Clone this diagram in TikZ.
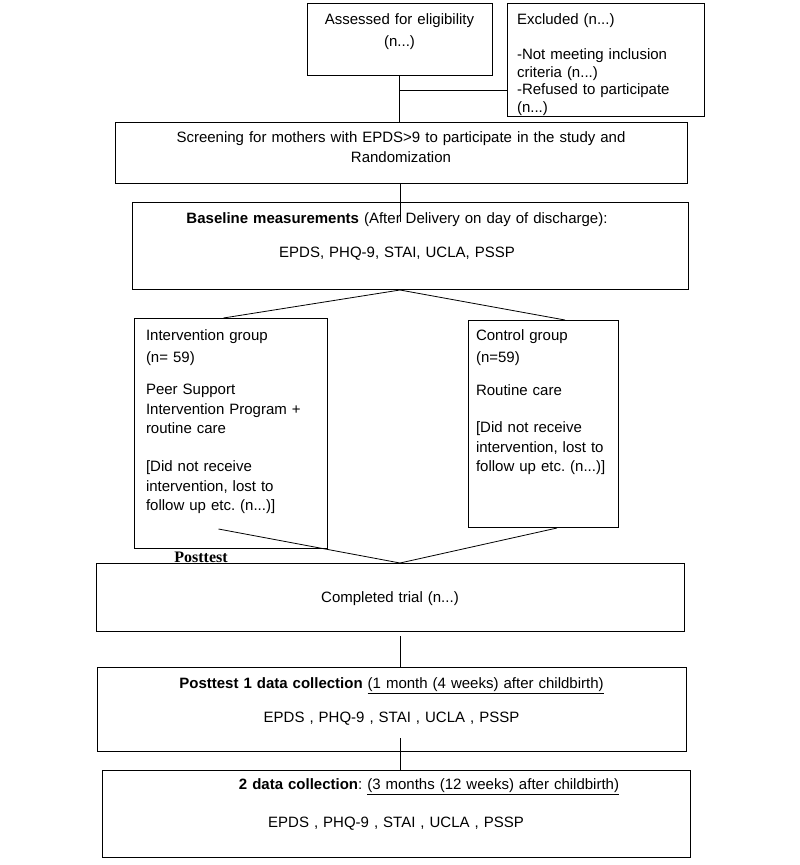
\documentclass[tikz,border=0pt]{standalone}
\usepackage{fontspec}
\setmainfont{Liberation Sans}
\newfontfamily\posttestfont{Liberation Serif}
\frenchspacing
\tikzset{
    box/.style={draw, line width=1pt, anchor=north, inner xsep=0pt, inner ysep=0pt, align=center, font={\fontsize{15}{19}\selectfont}},
    link/.style={line width=0.8pt}
}
\begin{document}
\begin{tikzpicture}[x=1pt, y=-1pt]
    \useasboundingbox (0,0) rectangle (800,865);

    % Enrollment
    \node[box, text width=185pt, text height=21pt, text depth=51pt] (assessed) at (399.5,3) {Assessed for eligibility\\[3pt](n...)};
    \node[box, align=left, inner xsep=10pt, text width=177pt, text height=21pt, text depth=92pt, font={\fontsize{15}{17.5}\selectfont}] (excluded) at (605.5,3)
        {Excluded (n...)\\[17.5pt]-Not meeting inclusion\\criteria (n...)\\-Refused to participate\\(n...)};
    \node[box, text width=572pt, text height=20pt, text depth=41pt] (screening) at (401,122)
        {Screening for mothers with EPDS>9 to participate in the study and\\[1pt]Randomization};
    \node[box, text width=556pt, text height=21pt, text depth=66pt] (baseline) at (410,202)
        {\hspace*{-26pt}\textbf{Baseline measurements} (After Delivery on day of discharge):\\[15pt]\hspace*{-26pt}EPDS, PHQ-9, STAI, UCLA, PSSP};

    % Allocation
    \node[box, align=left, inner xsep=12pt, text width=169pt, text height=22pt, text depth=208pt, font={\fontsize{15}{19.5}\selectfont}] (intervention) at (230.5,318)
        {Intervention group\\[2.5pt](n= 59)\\[12.5pt]Peer Support\\Intervention Program +\\routine care\\[18.5pt][Did not receive\\intervention, lost to\\follow up etc. (n...)]};
    \node[box, align=left, inner xsep=8pt, text width=134pt, text height=20pt, text depth=187pt, font={\fontsize{15}{19.5}\selectfont}] (control) at (543,320)
        {Control group\\[2.5pt](n=59)\\[13.5pt]Routine care\\[17.5pt][Did not receive\\intervention, lost to\\follow up etc. (n...)]};

    % Follow up
    \node[font={\posttestfont\bfseries\fontsize{16}{18}\selectfont}, inner sep=0pt] (posttest) at (201,557.5) {Posttest};
    \node[box, text width=588pt, text height=39pt, text depth=29pt] (completed) at (390,563) {Completed trial (n...)};
    \node[box, text width=589pt, text height=21pt, text depth=63pt] (posttest1) at (391.5,667)
        {\textbf{Posttest 1 data collection} \underline{(1 month (4 weeks) after childbirth)}\\[15pt]EPDS , PHQ-9 , STAI , UCLA , PSSP};
    \node[box, text width=588pt, text height=19pt, text depth=68pt] (data2) at (396,770)
        {\hspace*{66pt}\textbf{2 data collection}: \underline{(3 months (12 weeks) after childbirth)}\\[19pt]EPDS , PHQ-9 , STAI , UCLA , PSSP};

    % Connect the boxes
    \coordinate (split) at ([xshift=-10pt]baseline.south);
    \coordinate (branch) at ([yshift=-14pt]assessed.south);
    \draw[link] (assessed.south) -- (assessed.south |- screening.north);
    \draw[link] (branch) -- (branch -| excluded.west);
    \draw[link] (split |- screening.south) -- ([yshift=-20pt]split |- baseline.north);
    \draw[link] ([xshift=-7pt]intervention.north) -- (split) -- ([xshift=22pt]control.north);
    \draw[link] ([shift={(-12,-20)}]intervention.south) -- (split |- completed.north) -- ([xshift=14pt]control.south);
    \draw[link] ([yshift=-4pt]split |- completed.south) -- (split |- posttest1.north);
    \draw[link] ([yshift=14pt]split |- posttest1.south) -- (split |- data2.north);
\end{tikzpicture}
\end{document}
